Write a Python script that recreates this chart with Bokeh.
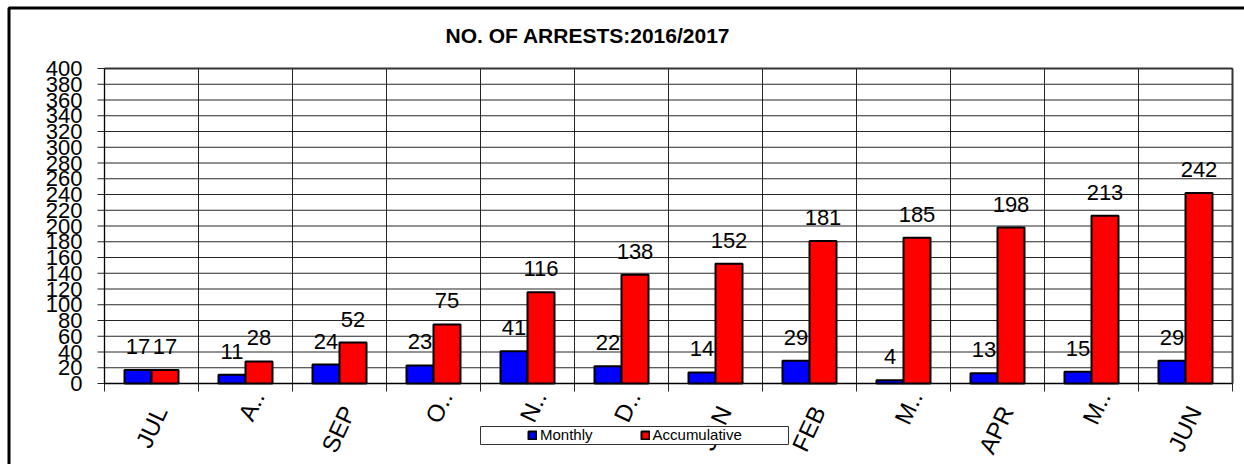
import math
from bokeh.plotting import figure
from bokeh.models import (ColumnDataSource, Legend, LegendItem, BoxAnnotation,
                          Label, LabelSet, Range1d)
from bokeh.embed import file_html
from bokeh.resources import INLINE
from bokeh.core.properties import value

# ---- data ----
months = ["JUL", "A..", "SEP", "O..", "N..", "D..", "JAN", "FEB", "M..", "APR", "M..", "JUN"]
monthly = [17, 11, 24, 23, 41, 22, 14, 29, 4, 13, 15, 29]
accumulative = [17, 28, 52, 75, 116, 138, 152, 181, 185, 198, 213, 242]
y_ticks = list(range(0, 401, 20))
y_tick_labels = [str(t) for t in y_ticks]
series_names = ["Monthly", "Accumulative"]
title_text = "NO. OF ARRESTS:2016/2017"

# ---- layout (pixels) ----
FONT = "Liberation Sans"
PX_W, PX_H = 1244, 464
PX_L, PX_R, PX_T, PX_B = 104, 1232, 68, 383
n = len(months)
ymax = y_ticks[-1]
sx = (PX_R - PX_L) / n
sy = (PX_B - PX_T) / ymax


def dx(px):
    return px / sx


def dy(px):
    return px / sy


BAR_W = 27 / sx
centers = [i + 0.5 for i in range(n)]
bounds = list(range(n + 1))

p = figure(width=PX_W, height=PX_H, output_backend="svg", toolbar_location=None,
           x_range=Range1d(-dx(PX_L), dx(PX_W - PX_L)),
           y_range=Range1d(-dy(PX_H - PX_B), dy(PX_B)),
           x_axis_location=None, y_axis_location=None, min_border=0)
p.grid.visible = False
p.outline_line_color = None
p.background_fill_color = "white"
p.border_fill_color = "white"

GRID = dict(line_color="black", line_width=1, line_alpha=0.85)
# horizontal grid lines + y tick marks
p.segment(x0=[-dx(7)] * len(y_ticks), x1=[n] * len(y_ticks), y0=y_ticks, y1=y_ticks, **GRID)
# vertical grid lines + x tick marks
p.segment(x0=bounds, x1=bounds, y0=[-dy(8)] * len(bounds), y1=[ymax] * len(bounds), **GRID)
# axis lines and plot outline (top/right)
p.segment(x0=[0, 0], x1=[0, n], y0=[0, 0], y1=[ymax, 0], line_color="black", line_width=1.3)
p.segment(x0=[0, n], x1=[n, n], y0=[ymax, 0], y1=[ymax, ymax], line_color="#333333", line_width=2)

src = ColumnDataSource(dict(
    xm=[c - BAR_W / 2 for c in centers],
    xa=[c + BAR_W / 2 for c in centers],
    monthly=monthly, acc=accumulative,
    ml=[str(v) for v in monthly], al=[str(v) for v in accumulative]))

r1 = p.vbar(x="xm", top="monthly", bottom=0, width=BAR_W, source=src,
            fill_color="#0000FF", line_color="black", line_width=2)
r2 = p.vbar(x="xa", top="acc", bottom=0, width=BAR_W, source=src,
            fill_color="#FF0000", line_color="black", line_width=2)

for xcol, ycol, tcol in (("xm", "monthly", "ml"), ("xa", "acc", "al")):
    p.add_layout(LabelSet(x=xcol, y=ycol, text=tcol, source=src, y_offset=16,
                          text_align="center", text_baseline="alphabetic",
                          text_font=value(FONT), text_font_size="22px",
                          text_color="black"))

# y tick labels
p.text(x=[-dx(22)] * len(y_ticks), y=y_ticks, text=y_tick_labels,
       text_align="right", text_baseline="middle", text_font=value(FONT),
       text_font_size="22px", text_color="black")

# x tick labels (rotated); truncated labels sit a little higher, as in Excel
trunc = [m.endswith("..") for m in months]
p.text(x=[c + dx(12 if t else 9) for c, t in zip(centers, trunc)],
       y=[-dy(9 if t else 24) for t in trunc], text=months,
       angle=math.radians(65), text_align="right", text_baseline="alphabetic",
       text_font=value(FONT), text_font_size="24px", text_color="black")

# outer border and legend box
p.add_layout(BoxAnnotation(left=8.5, right=1290, top=7.5, bottom=520,
                           left_units="canvas", right_units="canvas",
                           top_units="canvas", bottom_units="canvas",
                           fill_alpha=0, line_color="black", line_alpha=1,
                           line_width=3))
p.add_layout(BoxAnnotation(left=480, right=788, top=426, bottom=444,
                           left_units="canvas", right_units="canvas",
                           top_units="canvas", bottom_units="canvas",
                           fill_color="white", fill_alpha=1,
                           line_color="#333333", line_alpha=1, line_width=1))

legend = Legend(items=[LegendItem(label=series_names[0], renderers=[r1]),
                       LegendItem(label=series_names[1], renderers=[r2])],
                orientation="horizontal", location=(527, PX_H - 444 + 1),
                glyph_width=10, glyph_height=10, label_standoff=3, spacing=47,
                padding=0, margin=0, border_line_alpha=0,
                background_fill_alpha=0,
                label_text_font=FONT, label_text_font_size="15px",
                label_text_color="black")
p.add_layout(legend)

p.add_layout(Label(x=445, y=PX_H - 35, x_units="screen", y_units="screen",
                   text=title_text, text_font=FONT, text_font_size="21px",
                   text_font_style="bold", text_color="black",
                   text_baseline="alphabetic", text_align="left"))

open("out.html", "w").write(file_html(p, INLINE))
